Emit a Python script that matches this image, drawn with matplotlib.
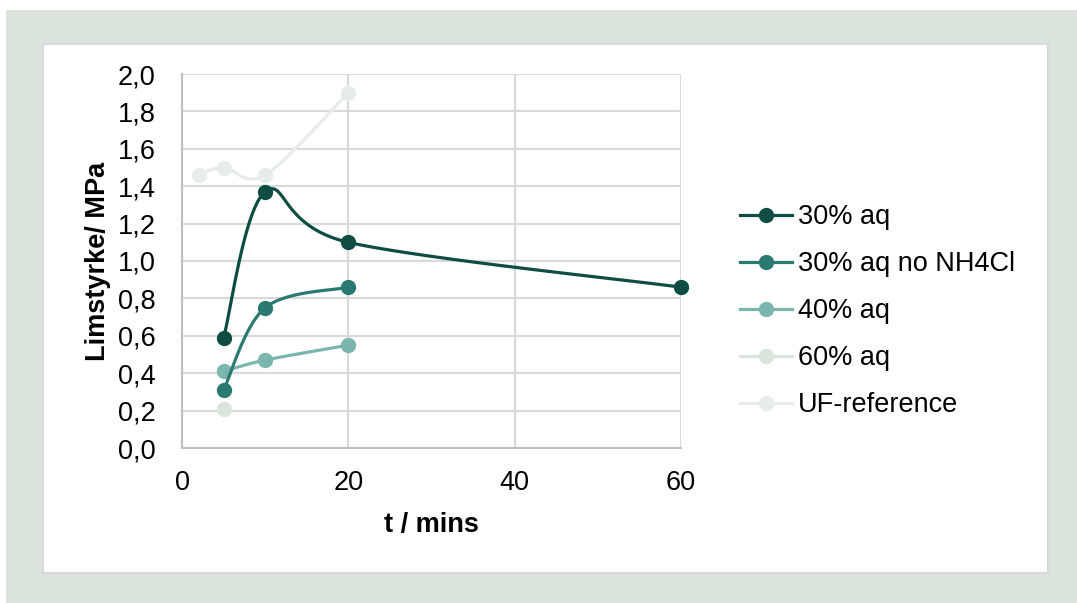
import numpy as np
import matplotlib
matplotlib.use("Agg")
import matplotlib.pyplot as plt
from matplotlib.patches import Rectangle
from matplotlib.lines import Line2D
from matplotlib.ticker import FuncFormatter, MultipleLocator

plt.rcParams['font.family'] = ['Liberation Sans', 'DejaVu Sans']

series_names = ["30% aq", "30% aq no NH4Cl", "40% aq", "60% aq", "UF-reference"]
t_30 = [5, 10, 20, 60]
v_30 = [0.59, 1.37, 1.10, 0.86]
t_30_no = [5, 10, 20]
v_30_no = [0.31, 0.75, 0.86]
t_40 = [5, 10, 20]
v_40 = [0.41, 0.47, 0.55]
t_60 = [5]
v_60 = [0.21]
t_uf = [2, 5, 10, 20]
v_uf = [1.46, 1.50, 1.46, 1.90]
colors = ["#0f4c41", "#2a7a72", "#7ab5ae", "#d8e4dc", "#e6ede8"]

FS = 19.5

fig = plt.figure(figsize=(10.77, 6.03), dpi=100)
fig.patch.set_facecolor("white")
fig.patches.append(Rectangle((6/1077, 0), 1 - 6/1077, 1 - 10/603, transform=fig.transFigure,
                             facecolor="#dae4dd", edgecolor="none", zorder=-10))
fig.patches.append(Rectangle((43/1077, 1 - 573/603), (1048-43)/1077, (573-44)/603, transform=fig.transFigure,
                             facecolor="white", edgecolor="#d9d9d9", linewidth=1.5, zorder=-9))

ax = fig.add_axes([182/1077, 1 - 448/603, (681-182)/1077, (448-74)/603])
ax.set_xlim(0, 60)
ax.set_ylim(0, 2.0)
ax.xaxis.set_major_locator(MultipleLocator(20))
ax.yaxis.set_major_locator(MultipleLocator(0.2))
ax.yaxis.set_major_formatter(FuncFormatter(lambda v, p: f"{v:.1f}".replace(".", ",")))
ax.grid(True, color="#d9d9d9", linewidth=1.5)
ax.set_axisbelow(True)
for s in ["top", "right"]:
    ax.spines[s].set_visible(False)
for s in ["left", "bottom"]:
    ax.spines[s].set_color("#bfbfbf")
    ax.spines[s].set_linewidth(1.5)
ax.tick_params(axis="y", length=0, labelsize=FS, colors="black", pad=19)
ax.tick_params(axis="x", length=0, labelsize=FS, colors="black", pad=16)
ax.set_xlabel("t / mins", fontsize=FS, fontweight="bold")
ax.set_ylabel("Limstyrke/ MPa", fontsize=FS, fontweight="bold")
ax.xaxis.set_label_coords(0.5, -0.170)
ax.yaxis.set_label_coords(-0.142, 0.5)


def smooth(xs, ys, n=40):
    pts = ax.transData.transform(np.column_stack([xs, ys]))
    if len(pts) < 3:
        out = pts
    else:
        P = np.vstack([pts[0], pts, pts[-1]])
        segs = []
        for i in range(1, len(P) - 2):
            p0, p1, p2, p3 = P[i-1], P[i], P[i+1], P[i+2]
            c1 = p1 + (p2 - p0) / 6
            c2 = p2 - (p3 - p1) / 6
            t = np.linspace(0, 1, n)[:, None]
            b = (1-t)**3*p1 + 3*(1-t)**2*t*c1 + 3*(1-t)*t**2*c2 + t**3*p2
            segs.append(b if i == 1 else b[1:])
        out = np.vstack(segs)
    return ax.transData.inverted().transform(out)


data = [(t_30, v_30), (t_30_no, v_30_no), (t_40, v_40), (t_60, v_60), (t_uf, v_uf)]
for k in [4, 3, 2, 1, 0]:
    xs, ys = data[k]
    c = colors[k]
    curve = smooth(xs, ys)
    ax.plot(curve[:, 0], curve[:, 1], color=c, lw=2.3, solid_capstyle="round", zorder=3 + (4-k), clip_on=False)
    ax.plot(xs, ys, 'o', color=c, ms=10, zorder=3 + (4-k), clip_on=False)

handles = [Line2D([0], [0], color=c, lw=2.3, marker='o', ms=10) for c in colors]
leg = fig.legend(handles, series_names, loc="upper left", bbox_to_anchor=(740/1077, 1 - 204/603),
                 frameon=False, fontsize=FS, handlelength=1.93, handletextpad=0.2,
                 labelspacing=0.78, borderaxespad=0, borderpad=0)

fig.savefig("out.png", dpi=100, facecolor=fig.get_facecolor())
